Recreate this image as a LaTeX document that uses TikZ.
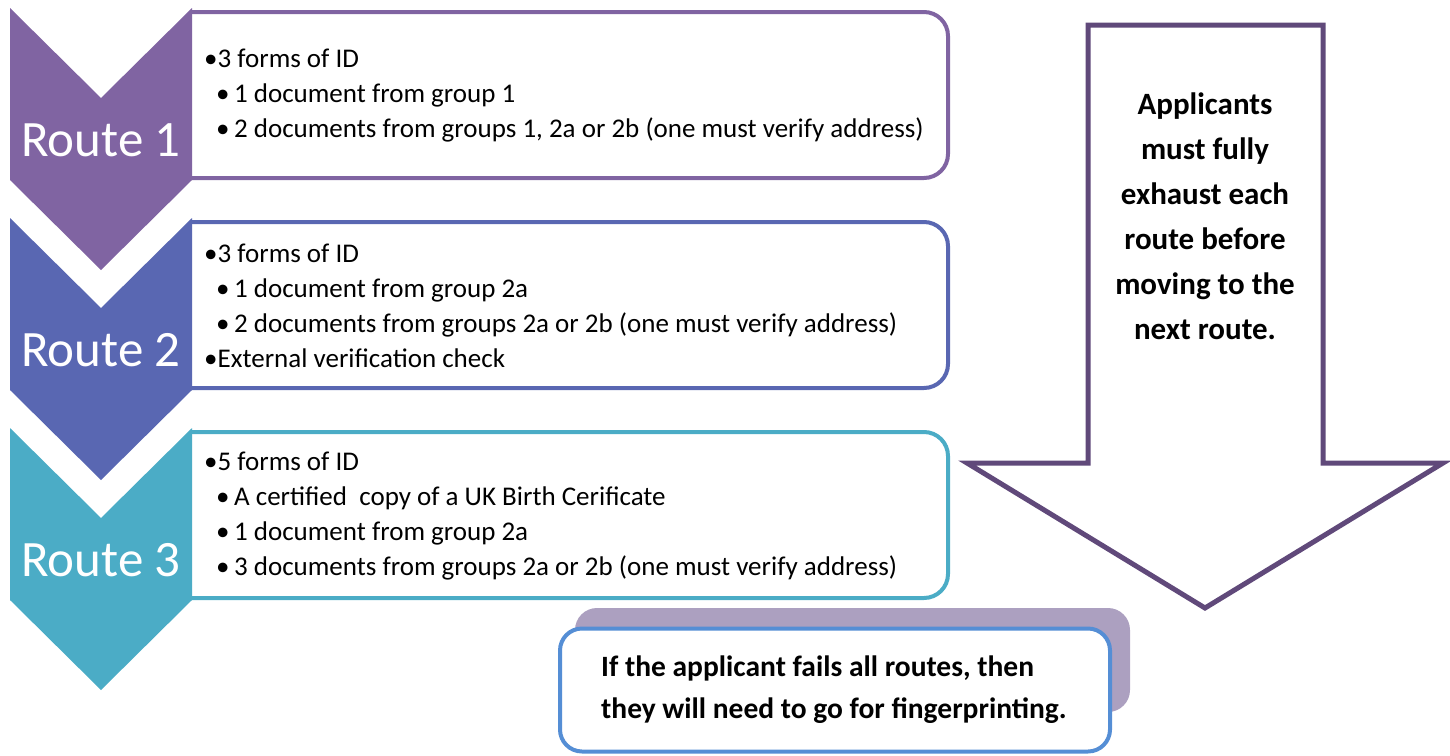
\documentclass[tikz,border=0pt]{standalone}
\usepackage{fontspec}
\setmainfont{Carlito}
\usetikzlibrary{positioning}

\definecolor{routeA}{RGB}{128,100,162}
\definecolor{routeB}{RGB}{89,103,178}
\definecolor{routeC}{RGB}{75,172,198}
\definecolor{arrowline}{RGB}{96,73,122}
\definecolor{shadowgrey}{RGB}{172,160,192}
\definecolor{noteblue}{RGB}{85,142,213}

\tikzset{
  routelabel/.style={text=white, inner sep=0pt, font=\fontsize{51}{51}\selectfont},
  bodytext/.style={anchor=west, align=left, inner sep=0pt,
    font=\fontsize{27}{35}\selectfont},
  notetext/.style={align=center, inner sep=0pt,
    font=\bfseries\fontsize{31}{45}\selectfont},
}

\begin{document}
\begin{tikzpicture}[x=1pt,y=-1pt]
  \useasboundingbox (0,0) rectangle (1450,755);

  % boxes, square on the left where the chevron meets them
  \foreach \c/\y in {routeA/12, routeB/222, routeC/432}
    \draw[\c, line width=4pt, fill=white] (192,\y) -- (924,\y)
      arc[start angle=-90, end angle=0, radius=24] -- (948,{\y+142})
      arc[start angle=0, end angle=90, radius=24] -- (192,{\y+166});

  \foreach \c/\y in {routeA/8, routeB/218, routeC/428}
    \fill[\c] (10,\y) -- (101,{\y+90}) -- (192,\y) -- (192,{\y+172})
      -- (101,{\y+262}) -- (10,{\y+172}) -- cycle;

  \node[routelabel] (route1) at (101,140) {Route 1};
  \node[routelabel] (route2) at (101,350) {Route 2};
  \node[routelabel] (route3) at (101,560) {Route 3};

  \node[bodytext] (text1) at (204,96) {%
    •3 forms of ID\\
    \hspace*{12pt}•\,1 document from group 1\\
    \hspace*{12pt}•\,2 documents from groups 1, 2a or 2b (one must verify address)};
  \node[bodytext] (text2) at (204,306) {%
    •3 forms of ID\\
    \hspace*{12pt}•\,1 document from group 2a\\
    \hspace*{12pt}•\,2 documents from groups 2a or 2b (one must verify address)\\
    •External verification check};
  \node[bodytext] (text3) at (204,516) {%
    •5 forms of ID\\
    \hspace*{12pt}•\,A certified\ \ copy of a UK Birth Cerificate\\
    \hspace*{12pt}•\,1 document from group 2a\\
    \hspace*{12pt}•\,3 documents from groups 2a or 2b (one must verify address)};

  % big arrow on the right
  \draw[arrowline, line width=5pt, fill=white]
    (1088,25) -- (1323,25) -- (1323,463) -- (1443,463) -- (1205,608)
    -- (967,463) -- (1088,463) -- cycle;
  \node[notetext] (rule) at (1205,216) {Applicants\\must fully\\exhaust each\\route before\\moving to the\\next route.};

  % last resort
  \fill[shadowgrey, rounded corners=22pt] (575,608) rectangle (1130,712);
  \node[draw=noteblue, line width=4pt, fill=white, rounded corners=22pt,
    minimum width=550pt, minimum height=123pt, inner sep=0pt] (fail) at (835,690) {};
  \node[bodytext, font=\bfseries\fontsize{29.5}{42}\selectfont,
    right=43pt of fail.west] (failnote) {If the applicant fails all routes, then\\they will need to go for fingerprinting.};
\end{tikzpicture}
\end{document}
